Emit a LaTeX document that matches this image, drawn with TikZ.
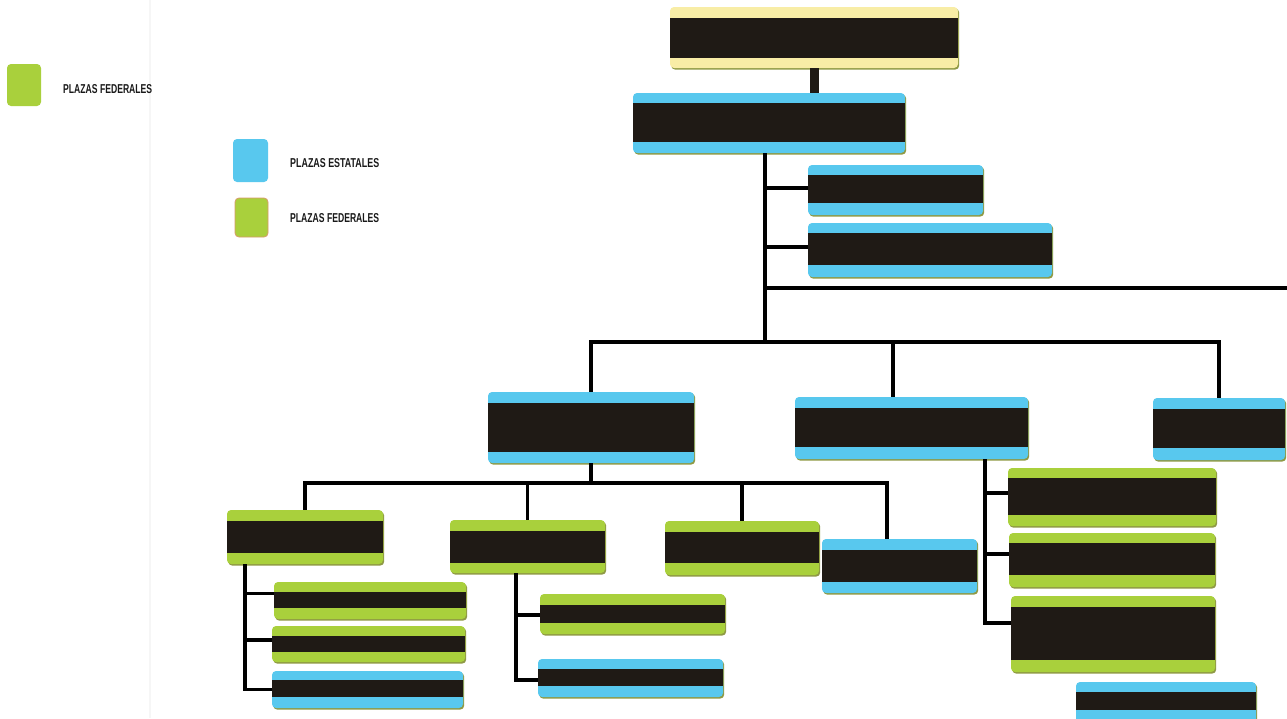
\documentclass[tikz,border=0pt]{standalone}
\usepackage{fontspec}
\setmainfont{Liberation Sans}
\usetikzlibrary{shadows}
\definecolor{bluec}{HTML}{58C8EE}
\definecolor{greenc}{HTML}{A9D03C}
\definecolor{yellowc}{HTML}{F8EDA6}
\definecolor{bandc}{HTML}{1F1A15}
\definecolor{shadc}{HTML}{8F9A45}
\definecolor{legborder}{HTML}{D89A6A}
\tikzset{
  orgbox/.style={rectangle, rounded corners=4pt, inner sep=0pt, draw=none,
    general shadow={fill=shadc, shadow xshift=1.2pt, shadow yshift=-1.6pt}},
  conn/.style={draw=black, line width=3.2pt},
  trunk/.style={draw=bandc, line width=9pt},
  legsq/.style={rectangle, rounded corners=4pt, inner sep=0pt, draw=none},
  legtext/.style={anchor=west, inner sep=0pt, text=black!90}
}
% name, colour, x1, y1, x2, y2, band top, band bottom
\newcommand\orgrect[8]{%
  \node[orgbox, fill=#2, minimum width={(#5-#3)*1pt}, minimum height={(#6-#4)*1pt}]
    (#1) at ({(#3+#5)/2},{(#4+#6)/2}) {};
  \fill[bandc] (#3,#7) rectangle (#5,#8);}
\newcommand\legword[1]{\resizebox{89pt}{9pt}{\bfseries #1}}
\begin{document}
\begin{tikzpicture}[x=1pt,y=-1pt]
\useasboundingbox (0,0) rectangle (1287,718);
\clip (0,0) rectangle (1287,718);
\fill[white] (0,0) rectangle (1287,718);
% faint page edge
\draw[gray!7, line width=1.5pt] (150,0) -- (150,718);

% legend
\node[legsq, fill=greenc, minimum width=34pt, minimum height=42pt] (lg1) at (24,85) {};
\node[legtext] (lt1) at (63,89) {\legword{PLAZAS FEDERALES}};
\node[legsq, fill=bluec, minimum width=35pt, minimum height=43pt] (lg2) at (250.5,160.5) {};
\node[legtext] (lt2) at (290,163) {\legword{PLAZAS ESTATALES}};
\node[legsq, fill=greenc, draw=legborder, line width=0.8pt, minimum width=33pt, minimum height=39pt] (lg3) at (251.5,217.5) {};
\node[legtext] (lt3) at (290,218) {\legword{PLAZAS FEDERALES}};

% coordinates for connector routes
\coordinate (j1) at (765,342);
\coordinate (j2) at (591,483);
\coordinate (xB) at (893,0);
\coordinate (xP) at (887,0);
\coordinate (xD) at (245,0);
\coordinate (xE) at (516,0);
\coordinate (xBB) at (985,0);
\coordinate (eR) at (1295,288);

% boxes
\orgrect{top}{yellowc}{670}{7}{958}{68}{18}{58}
\orgrect{b2}{bluec}{633}{93}{905}{153}{103}{142}
\orgrect{b3}{bluec}{808}{165}{983}{215}{175}{203}
\orgrect{b4}{bluec}{808}{223}{1052}{277}{233}{265}
\orgrect{bA}{bluec}{488}{392}{694}{463}{403}{452}
\orgrect{bB}{bluec}{795}{397}{1028}{459}{408}{447}
\orgrect{bC}{bluec}{1153}{398}{1285}{460}{409}{448}
\orgrect{bD}{greenc}{227}{510}{383}{564}{521}{553}
\orgrect{bE}{greenc}{450}{520}{605}{573}{531}{563}
\orgrect{bF}{greenc}{665}{521}{819}{575}{532}{563}
\orgrect{bP}{bluec}{822}{539}{977}{593}{550}{582}
\orgrect{bG}{greenc}{274}{582}{466}{619}{592}{608}
\orgrect{bH}{greenc}{272}{626}{465}{662}{636}{652}
\orgrect{bI}{bluec}{272}{671}{463}{708}{680}{697}
\orgrect{bJ}{greenc}{540}{594}{725}{634}{605}{623}
\orgrect{bK}{bluec}{538}{659}{723}{697}{669}{686}
\orgrect{bL}{greenc}{1008}{468}{1216}{526}{478}{515}
\orgrect{bM}{greenc}{1009}{533}{1215}{587}{543}{575}
\orgrect{bN}{greenc}{1011}{596}{1215}{672}{607}{660}
\orgrect{bO}{bluec}{1076}{682}{1256}{724}{692}{710}

% connectors
\draw[trunk] (top.south) -- (top.south |- b2.north);
\draw[conn] (b2.south -| j1) -- (j1);
\draw[conn] ([yshift=2pt]b3.west -| j1) -- ([yshift=2pt]b3.west);
\draw[conn] ([yshift=3pt]b4.west -| j1) -- ([yshift=3pt]b4.west);
\draw[conn] (eR -| j1) -- (eR);
\draw[conn] (bA.north) |- (bC.north |- j1) -- (bC.north);
\draw[conn] (bB.north -| xB) -- (xB |- j1);
\draw[conn] (bA.south) -- (j2);
\draw[conn] (bD.north) |- (xP |- j2) -- (bP.north -| xP);
\draw[conn] (bE.north) -- (bE.north |- j2);
\draw[conn] (bF.north) -- (bF.north |- j2);
\draw[conn] (bD.south -| xD) |- (bI.west);
\draw[conn] ([yshift=7pt]bG.west -| xD) -- ([yshift=7pt]bG.west);
\draw[conn] ([yshift=4pt]bH.west -| xD) -- ([yshift=4pt]bH.west);
\draw[conn] (bE.south -| xE) |- ([yshift=-2pt]bK.west);
\draw[conn] ([yshift=-1pt]bJ.west -| xE) -- ([yshift=-1pt]bJ.west);
\draw[conn] (bB.south -| xBB) |- ([yshift=11pt]bN.west);
\draw[conn] ([yshift=4pt]bL.west -| xBB) -- ([yshift=4pt]bL.west);
\draw[conn] ([yshift=6pt]bM.west -| xBB) -- ([yshift=6pt]bM.west);
\end{tikzpicture}
\end{document}
